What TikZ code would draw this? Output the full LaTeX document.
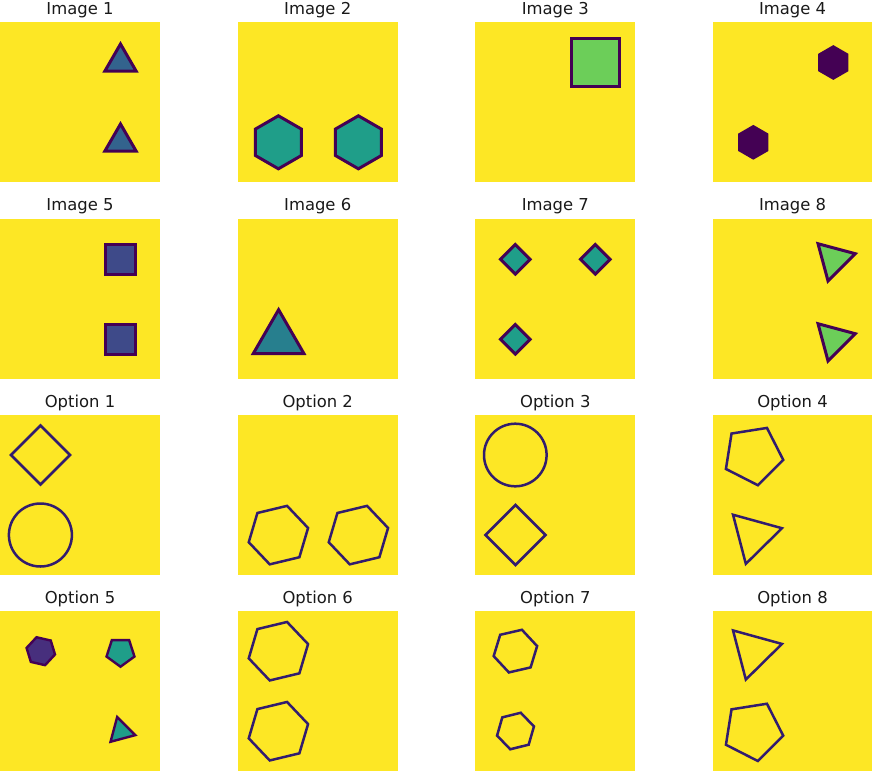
\documentclass[tikz,border=0pt]{standalone}
\usepackage{fontspec}
\setmainfont{DejaVu Sans}
\definecolor{bgy}{HTML}{FDE725}
\definecolor{dk}{HTML}{440154}
\definecolor{optl}{HTML}{321C6E}
\definecolor{cblue}{HTML}{33638D}
\definecolor{cteal}{HTML}{1F9E89}
\definecolor{cpet}{HTML}{277F8E}
\definecolor{cind}{HTML}{3E4A89}
\definecolor{cgrn}{HTML}{6CCE59}
\definecolor{cpur}{HTML}{472F7D}
\newcommand\rpoly[6]{\path[#1] plot[samples at={0,...,#5}] ({#2+#4*cos(#6+360/#5*\x)},{#3+#4*sin(#6+360/#5*\x)}) -- cycle;}
\tikzset{
  panel/.style={fill=bgy, draw=none},
  ttl/.style={anchor=base, inner sep=0pt, font=\fontsize{16.4}{20}\selectfont, text=black!90},
  imgshape/.style={draw=dk, line width=3pt, line join=miter},
  optshape/.style={draw=optl, line width=2.5pt, line join=miter},
  solid5/.style={draw=dk, line width=2.4pt, line join=miter},
}
\begin{document}
\begin{tikzpicture}[x=1pt,y=-1pt]
\useasboundingbox (0,0) rectangle (872,771);
% panels
\foreach \c/\xl in {1/0,2/237.7,3/475.3,4/712.5}{
  \foreach \r/\yt in {1/22,2/218.7,3/415,4/611}{
    \fill[bgy] (\xl,\yt) rectangle ++(160,160);
  }
}
% titles
\node[ttl] (t1) at (80,14.5) {Image 1};
\node[ttl] (t2) at (317.7,14.5) {Image 2};
\node[ttl] (t3) at (555.3,14.5) {Image 3};
\node[ttl] (t4) at (792.5,14.5) {Image 4};
\node[ttl] (t5) at (80,210.7) {Image 5};
\node[ttl] (t6) at (317.7,210.7) {Image 6};
\node[ttl] (t7) at (555.3,210.7) {Image 7};
\node[ttl] (t8) at (792.5,210.7) {Image 8};
\node[ttl] (o1) at (80,407.3) {Option 1};
\node[ttl] (o2) at (317.7,407.3) {Option 2};
\node[ttl] (o3) at (555.3,407.3) {Option 3};
\node[ttl] (o4) at (792.5,407.3) {Option 4};
\node[ttl] (o5) at (80,603.5) {Option 5};
\node[ttl] (o6) at (317.7,603.5) {Option 6};
\node[ttl] (o7) at (555.3,603.5) {Option 7};
\node[ttl] (o8) at (792.5,603.5) {Option 8};
% Image 1
\rpoly{imgshape,fill=cblue}{120.5}{62}{18}{3}{-90}
\rpoly{imgshape,fill=cblue}{120.5}{142}{18}{3}{-90}
% Image 2
\rpoly{imgshape,fill=cteal}{278.4}{142.3}{26.5}{6}{-90}
\rpoly{imgshape,fill=cteal}{358.4}{142.3}{26.5}{6}{-90}
% Image 3
\path[imgshape,fill=cgrn] (571.5,38.5) rectangle (619.5,86.5);
% Image 4
\rpoly{fill=dk}{833.3}{62.5}{17.4}{6}{-90}
\rpoly{fill=dk}{753.3}{142.3}{17.4}{6}{-90}
% Image 5
\path[imgshape,fill=cind] (105.5,244.2) rectangle (135.8,274.5);
\path[imgshape,fill=cind] (105.5,324.2) rectangle (135.8,354.5);
% Image 6
\rpoly{imgshape,fill=cpet}{278.6}{338.9}{29.2}{3}{-90}
% Image 7
\rpoly{imgshape,fill=cteal}{515.3}{259.3}{14.8}{4}{0}
\rpoly{imgshape,fill=cteal}{595.3}{259.3}{14.8}{4}{0}
\rpoly{imgshape,fill=cteal}{515.3}{339.3}{14.8}{4}{0}
% Image 8
\rpoly{imgshape,fill=cgrn}{833.8}{259.5}{22.3}{3}{-15}
\rpoly{imgshape,fill=cgrn}{833.8}{339.5}{22.3}{3}{-15}
% Option 1
\rpoly{optshape}{40.5}{455}{29.5}{4}{0}
\draw[optshape] (40.4,535) circle (31.5);
% Option 2
\rpoly{optshape}{278.4}{535.1}{30.5}{6}{-13.5}
\rpoly{optshape}{358.4}{535.1}{30.5}{6}{-13.5}
% Option 3
\draw[optshape] (515.3,455) circle (31.3);
\rpoly{optshape}{515.5}{535}{30}{4}{0}
% Option 4
\rpoly{optshape}{753.1}{455.1}{30.5}{5}{9}
\rpoly{optshape}{753.6}{535.6}{29.3}{3}{-14.6}
% Option 5
\rpoly{solid5,fill=cpur}{40.8}{651.2}{14.6}{6}{13}
\rpoly{solid5,fill=cteal}{120.5}{652}{14.7}{5}{90}
\rpoly{solid5,fill=cteal}{121}{731.3}{14.8}{3}{15}
% Option 6
\rpoly{optshape}{278.4}{651.2}{30.5}{6}{-13.5}
\rpoly{optshape}{278.4}{731.2}{30.5}{6}{-13.5}
% Option 7
\rpoly{optshape}{515.4}{651.1}{22.3}{6}{-13}
\rpoly{optshape}{515.5}{731}{19}{6}{-14}
% Option 8
\rpoly{optshape}{753.6}{651.3}{29.3}{3}{-14.6}
\rpoly{optshape}{753.1}{730.9}{30.5}{5}{9}
\end{tikzpicture}
\end{document}
